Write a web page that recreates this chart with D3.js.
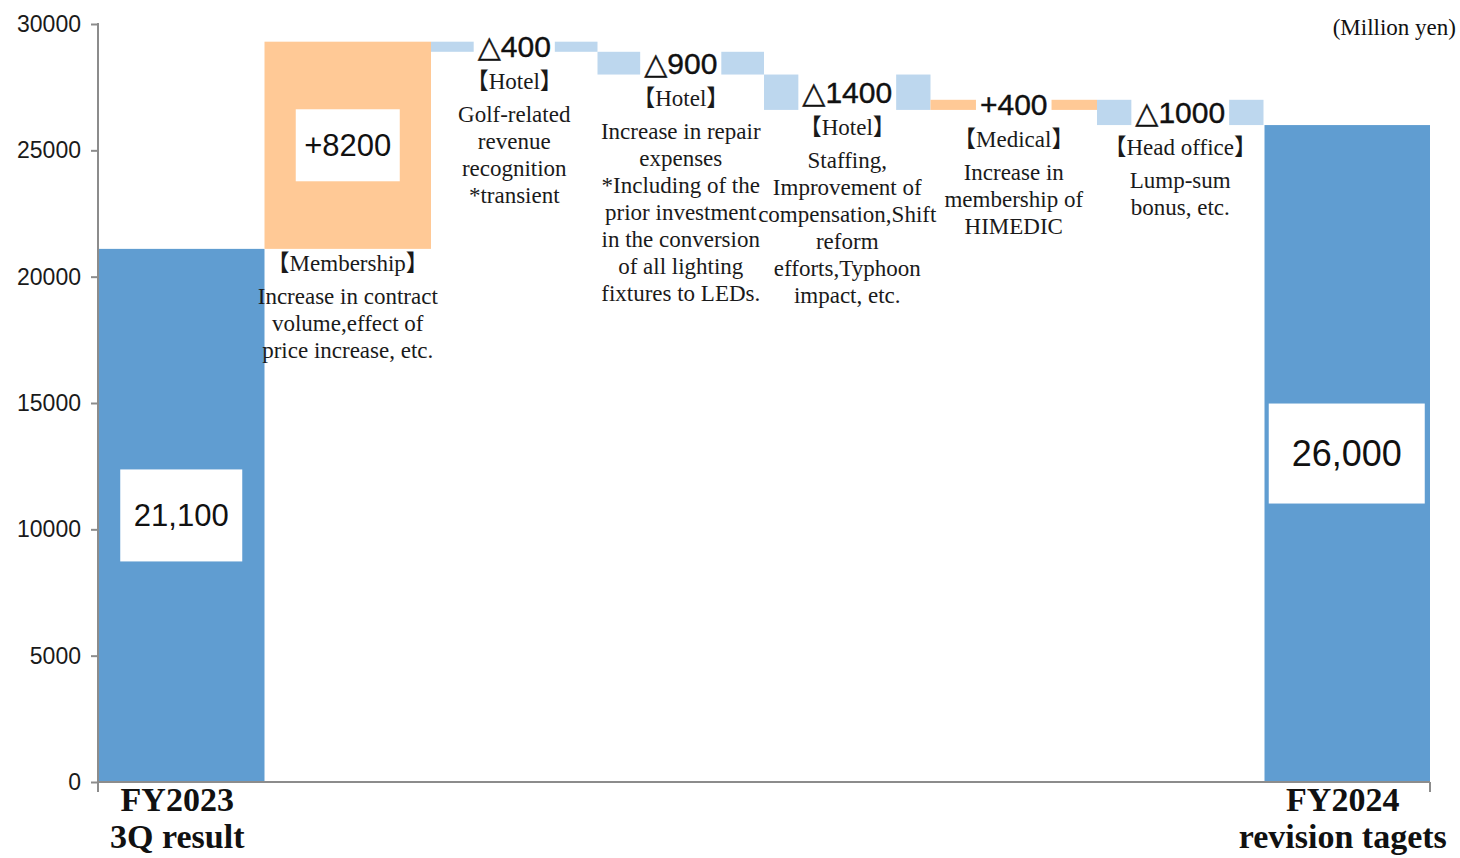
<!DOCTYPE html>
<html>
<head>
<meta charset="utf-8">
<script src="https://cdn.jsdelivr.net/npm/d3@7/dist/d3.min.js"></script>
<style>
  body { margin: 0; background: #fff; }
  svg { display: block; }
</style>
</head>
<body>
<svg id="chart" width="1460" height="858"></svg>
<script>
//------------------------------------------------------------
//---------------------------DADOS----------------------------
const steps = ["start", "membership", "hotelGolf", "hotelRepair", "hotelStaff", "medical", "headOffice", "end"];
const stepKinds = ["total", "delta", "delta", "delta", "delta", "delta", "delta", "total"];
const stepValues = [21100, 8200, -400, -900, -1400, 400, -1000, 26000];
const valueLabels = ["21,100", "+8200", "\u25B3400", "\u25B3900", "\u25B31400", "+400", "\u25B31000", "26,000"];
const segmentTitles = ["", "\u3010Membership\u3011", "\u3010Hotel\u3011", "\u3010Hotel\u3011", "\u3010Hotel\u3011", "\u3010Medical\u3011", "\u3010Head office\u3011", ""];
const segmentNotes = [
  [],
  ["Increase in contract", "volume,effect of", "price increase, etc."],
  ["Golf-related", "revenue", "recognition", "*transient"],
  ["Increase in repair", "expenses", "*Including of the", "prior investment", "in the conversion", "of all lighting", "fixtures to LEDs."],
  ["Staffing,", "Improvement of", "compensation,Shift", "reform", "efforts,Typhoon", "impact, etc."],
  ["Increase in", "membership of", "HIMEDIC"],
  ["Lump-sum", "bonus, etc."],
  []
];
const axisLabels = [["FY2023", "3Q result"], [], [], [], [], [], [], ["FY2024", "revision tagets"]];
const yTicks = [0, 5000, 10000, 15000, 20000, 25000, 30000];
const unitLabel = "(Million yen)";

//------------------------------------------------------------
//---------------------------ESTILOS--------------------------
const cores = { total: "#609DD1", up: "#FFC996", down: "#BDD7EE", axis: "#8C8C8C" };
const serif = "'Liberation Serif', 'Times New Roman', 'Noto Sans CJK JP', serif";
const sans = "'Liberation Sans', Arial, 'DejaVu Sans', sans-serif";
// caixa branca dos rotulos grandes: [fonte, largura, altura]
const caixaRotulo = { start: [31, 122, 92], membership: [31, 104, 72], end: [36, 156, 100] };

const svg = d3.select("#chart");
const area = { left: 98, right: 1430, top: 24, bottom: 782 };

//monta a tabela do waterfall (acumulado)
let acumulado = 0;
const dataset = steps.map(function(id, i) {
  let y0, y1;
  if (stepKinds[i] === "total") {
    y0 = 0; y1 = stepValues[i]; acumulado = stepValues[i];
  } else {
    y0 = acumulado; y1 = acumulado + stepValues[i]; acumulado = y1;
  }
  return {
    id: id, kind: stepKinds[i], valor: stepValues[i],
    lo: Math.min(y0, y1), hi: Math.max(y0, y1),
    rotulo: valueLabels[i], titulo: segmentTitles[i], notas: segmentNotes[i], eixo: axisLabels[i]
  };
});

//------------------------------------------------------------
//---------------------------ESCALAS--------------------------
const xScale = d3.scaleBand().domain(steps).range([area.left, area.right]).padding(0);
const yScale = d3.scaleLinear().domain([0, 30000]).range([area.bottom, area.top]);

function corBarra(d) {
  if (d.kind === "total") return cores.total;
  return d.valor >= 0 ? cores.up : cores.down;
}

//------------------------------------------------------------
//---------------------------BARRAS---------------------------
svg.append("g").selectAll("rect")
  .data(dataset)
  .enter()
  .append("rect")
  .attr("x", function(d) { return xScale(d.id) + (d.kind === "total" ? 1 : 0); })
  .attr("width", function(d) { return xScale.bandwidth() - (d.kind === "total" ? 1 : 0); })
  .attr("y", function(d) { return yScale(d.hi); })
  .attr("height", function(d) { return yScale(d.lo) - yScale(d.hi); })
  .attr("fill", corBarra);

//------------------------------------------------------------
//---------------------------EIXOS----------------------------
const yAxis = d3.axisLeft(yScale).tickValues(yTicks).tickSize(7).tickPadding(10).tickFormat(d3.format("d"));
const gy = svg.append("g").attr("transform", "translate(" + area.left + ",0)").call(yAxis);
gy.select(".domain").attr("stroke", cores.axis).attr("stroke-width", 2)
  .attr("d", "M0," + (area.top - 1) + "V" + (area.bottom + 10));
gy.selectAll(".tick line").attr("stroke", cores.axis).attr("stroke-width", 2);
gy.selectAll(".tick text").attr("font-family", sans).attr("font-size", "23px").attr("fill", "#1a1a1a");

//eixo x: linha base com marcas nas pontas
svg.append("line")
  .attr("x1", area.left).attr("x2", area.right)
  .attr("y1", yScale(0)).attr("y2", yScale(0))
  .attr("stroke", cores.axis).attr("stroke-width", 2);
svg.append("line")
  .attr("x1", area.right).attr("x2", area.right)
  .attr("y1", yScale(0)).attr("y2", yScale(0) + 10)
  .attr("stroke", cores.axis).attr("stroke-width", 2);

//rotulos das categorias do eixo x
dataset.forEach(function(d) {
  d.eixo.forEach(function(linha, k) {
    svg.append("text")
      .attr("x", xScale(d.id) + xScale.bandwidth() / 2 - 4)
      .attr("y", yScale(0) + 29 + k * 37)
      .attr("text-anchor", "middle")
      .attr("font-family", serif)
      .attr("font-weight", "bold")
      .attr("font-size", "34px")
      .attr("fill", "#111")
      .text(linha);
  });
});

//------------------------------------------------------------
//---------------------------ROTULOS--------------------------
dataset.forEach(function(d) {
  const cx = xScale(d.id) + xScale.bandwidth() / 2;
  const caixa = caixaRotulo[d.id];
  const g = svg.append("g");
  let yNota;

  if (caixa) {
    //rotulo grande em caixa branca no meio da barra
    const cy = (yScale(d.hi) + yScale(d.lo)) / 2;
    g.append("rect")
      .attr("x", cx - caixa[1] / 2).attr("y", cy - caixa[2] / 2)
      .attr("width", caixa[1]).attr("height", caixa[2])
      .attr("fill", "#fff");
    g.append("text")
      .attr("x", cx).attr("y", cy)
      .attr("text-anchor", "middle").attr("dominant-baseline", "central")
      .attr("font-family", sans).attr("font-size", caixa[0] + "px").attr("fill", "#111")
      .text(d.rotulo);
    yNota = yScale(d.lo) + 15;
  } else {
    //rotulo pequeno sobre a barra, com fundo branco
    const cy = (yScale(d.hi) + yScale(d.lo)) / 2;
    const fundo = g.append("rect").attr("fill", "#fff");
    const t = g.append("text")
      .attr("x", cx).attr("y", cy)
      .attr("text-anchor", "middle").attr("dominant-baseline", "central")
      .attr("font-family", sans).attr("font-size", "30px").attr("fill", "#111")
      .attr("stroke", "#111").attr("stroke-width", 0.4)
      .text(d.rotulo);
    const bb = t.node().getBBox();
    const topo = Math.min(bb.y, yScale(d.hi)) - 1;
    const base = Math.max(bb.y + bb.height, yScale(d.lo)) + 1;
    fundo.attr("x", bb.x - 4).attr("width", bb.width + 8)
      .attr("y", topo).attr("height", base - topo);
    yNota = cy + 35;
  }

  if (d.titulo) {
    g.append("text")
      .attr("x", cx).attr("y", yNota)
      .attr("text-anchor", "middle").attr("dominant-baseline", "central")
      .attr("font-family", serif).attr("font-size", "23px").attr("fill", "#1a1a1a")
      .text(d.titulo);
    d.notas.forEach(function(linha, k) {
      g.append("text")
        .attr("x", cx).attr("y", yNota + 33 + k * 27)
        .attr("text-anchor", "middle").attr("dominant-baseline", "central")
        .attr("font-family", serif).attr("font-size", "23px").attr("fill", "#1a1a1a")
        .text(linha);
    });
  }
});

//unidade no canto superior direito
svg.append("text")
  .attr("x", 1456).attr("y", 35)
  .attr("text-anchor", "end")
  .attr("font-family", serif).attr("font-size", "23px").attr("fill", "#111")
  .text(unitLabel);
</script>
</body>
</html>
